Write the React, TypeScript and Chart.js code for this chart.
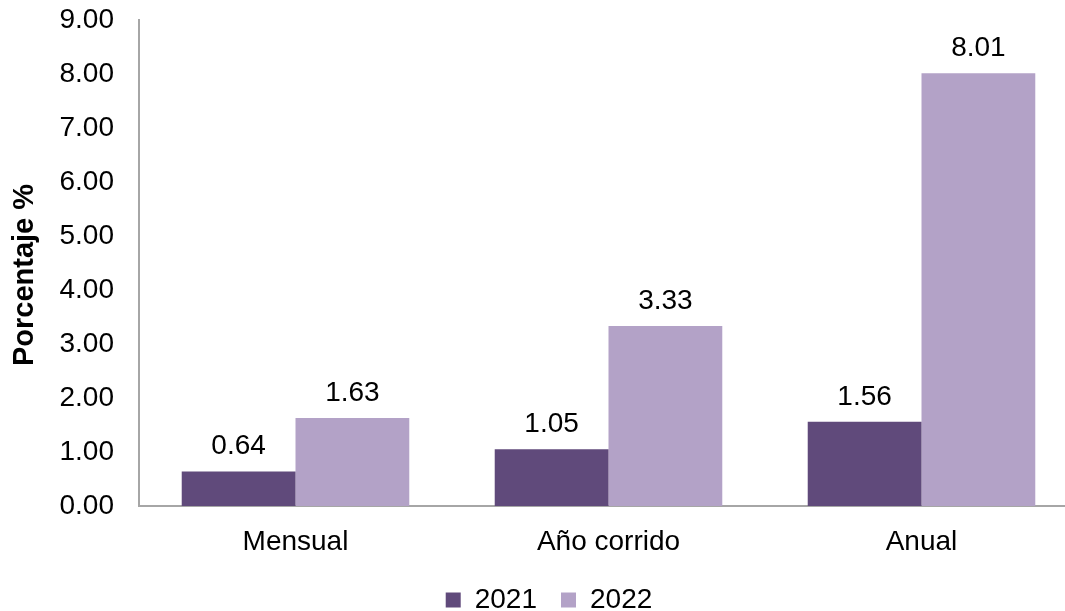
import React, { useEffect, useRef } from "react";
import { Chart, registerables } from "chart.js";

Chart.register(...registerables);

const categories = ["Mensual", "Año corrido", "Anual"];
const series2021 = [0.64, 1.05, 1.56];
const series2022 = [1.63, 3.33, 8.01];
const seriesLabels = ["2021", "2022"];
const yTicks = [0, 1, 2, 3, 4, 5, 6, 7, 8, 9];
const yTitle = "Porcentaje %";

const FONT = "'Liberation Sans', Arial, sans-serif";

const valueLabels = {
  id: "valueLabels",
  afterDatasetsDraw(chart: any) {
    const ctx = chart.ctx;
    ctx.save();
    ctx.font = `28px ${FONT}`;
    ctx.fillStyle = "#000";
    ctx.textAlign = "center";
    ctx.textBaseline = "alphabetic";
    chart.data.datasets.forEach((ds: any, i: number) => {
      const meta = chart.getDatasetMeta(i);
      meta.data.forEach((bar: any, j: number) => {
        ctx.fillText(Number(ds.data[j]).toFixed(2), bar.x, bar.y - 17);
      });
    });
    ctx.restore();
  },
};

// nudge the legend block slightly to the right, as in the reference
const legendShift = {
  id: "legendShift",
  afterLayout(chart: any) {
    if (chart.legend) {
      chart.legend.left += 10;
      chart.legend.right += 10;
    }
  },
};

export default function App() {
  const ref = useRef<HTMLCanvasElement | null>(null);
  useEffect(() => {
    if (!ref.current) return;
    const chart = new Chart(ref.current, {
      type: "bar",
      data: {
        labels: categories,
        datasets: [
          { label: seriesLabels[0], data: series2021, backgroundColor: "#604A7B", borderWidth: 0 },
          { label: seriesLabels[1], data: series2022, backgroundColor: "#B3A2C7", borderWidth: 0 },
        ],
      },
      options: {
        responsive: false,
        animation: false,
        devicePixelRatio: 1,
        layout: { padding: { top: 2, right: 22, left: 0, bottom: 0 } },
        datasets: { bar: { categoryPercentage: 0.727, barPercentage: 1 } },
        plugins: {
          tooltip: { enabled: false },
          legend: {
            position: "bottom",
            labels: {
              font: { family: FONT, size: 28 },
              color: "#000",
              boxWidth: 15,
              boxHeight: 15,
              padding: 24,
            },
          },
        },
        scales: {
          x: {
            grid: { display: false, drawTicks: false },
            border: { display: true, color: "#A6A6A6", width: 2 },
            ticks: { font: { family: FONT, size: 28 }, color: "#000", padding: 19 },
            afterFit: (s: any) => { s.height = 56; },
          },
          y: {
            min: 0,
            max: 9,
            afterBuildTicks: (s: any) => { s.ticks = yTicks.map((v) => ({ value: v })); },
            grid: { display: false, drawTicks: false },
            border: { display: true, color: "#A6A6A6", width: 2 },
            ticks: {
              font: { family: FONT, size: 28 },
              color: "#000",
              padding: 25,
              callback: (v: any) => Number(v).toFixed(2),
            },
            title: {
              display: true,
              text: yTitle + "   ",
              font: { family: FONT, size: 29, weight: "bold" },
              color: "#000",
              padding: { top: 8, bottom: 0 },
            },
            afterFit: (s: any) => { s.width = 139; },
          },
        },
      },
      plugins: [valueLabels, legendShift],
    } as any);
    return () => chart.destroy();
  }, []);
  return (
    <div style={{ position: "fixed", left: 0, top: 0, width: 1065, height: 611, overflow: "hidden", background: "#fff" }}>
      <canvas ref={ref} width={1100} height={646} style={{ display: "block", marginTop: -22 }} />
    </div>
  );
}
